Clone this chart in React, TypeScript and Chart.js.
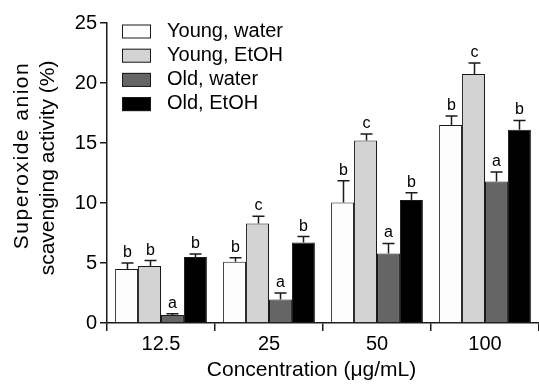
import { useEffect, useRef } from 'react';
import { Chart, registerables } from 'chart.js';

Chart.register(...registerables);

const categories = ['12.5', '25', '50', '100'];
const seriesNames = ['Young, water', 'Young, EtOH', 'Old, water', 'Old, EtOH'];
const youngWater = [4.5, 5.1, 10.05, 16.5];
const youngEtOH = [4.75, 8.3, 15.2, 20.75];
const oldWater = [0.67, 1.95, 5.8, 11.8];
const oldEtOH = [5.5, 6.7, 10.25, 16.1];
const youngWaterErr = [0.5, 0.33, 1.8, 0.75];
const youngEtOHErr = [0.45, 0.6, 0.55, 0.92];
const oldWaterErr = [0.1, 0.55, 0.83, 0.78];
const oldEtOHErr = [0.25, 0.5, 0.6, 0.78];
const youngWaterSig = ['b', 'b', 'b', 'b'];
const youngEtOHSig = ['b', 'c', 'c', 'c'];
const oldWaterSig = ['a', 'a', 'a', 'a'];
const oldEtOHSig = ['b', 'b', 'b', 'b'];
const yTicks = [0, 5, 10, 15, 20, 25];
const yTitleLines = ['Superoxide anion', 'scavenging activity (%)'];
const xTitle = 'Concentration (\u03bcg/mL)';

const FONT = "'Liberation Sans', Arial, Helvetica, sans-serif";
const fills = ['#fdfdfd', '#d3d3d3', '#656565', '#000000'];
const INK = '#1a1a1a';

const seriesValues = [youngWater, youngEtOH, oldWater, oldEtOH];
const seriesErr = [youngWaterErr, youngEtOHErr, oldWaterErr, oldEtOHErr];
const seriesSig = [youngWaterSig, youngEtOHSig, oldWaterSig, oldEtOHSig];

const errorPlugin = {
  id: 'errorBarsAndLetters',
  afterDatasetsDraw(chart: any) {
    const ctx = chart.ctx;
    const yScale = chart.scales.y;
    ctx.save();
    chart.data.datasets.forEach((ds: any, i: number) => {
      const meta = chart.getDatasetMeta(i);
      meta.data.forEach((el: any, j: number) => {
        const v = ds.data[j];
        const e = seriesErr[i][j];
        const yTop = yScale.getPixelForValue(v + e);
        const x = Math.round(el.x) + 0.5;
        ctx.strokeStyle = INK;
        ctx.lineWidth = 1.5;
        ctx.beginPath();
        ctx.moveTo(x, el.y);
        ctx.lineTo(x, yTop);
        ctx.moveTo(x - 6, yTop);
        ctx.lineTo(x + 6, yTop);
        ctx.stroke();
        ctx.fillStyle = '#000';
        ctx.font = `16px ${FONT}`;
        ctx.textAlign = 'center';
        ctx.textBaseline = 'alphabetic';
        ctx.fillText(seriesSig[i][j], x, yTop - 6);
      });
    });
    ctx.restore();
  },
};

const legendPlugin = {
  id: 'insideLegend',
  afterDraw(chart: any) {
    const ctx = chart.ctx;
    const area = chart.chartArea;
    ctx.save();
    chart.data.datasets.forEach((ds: any, i: number) => {
      const bx = area.left + 15;
      const by = area.top + 1.5 + i * 24.2;
      ctx.fillStyle = ds.backgroundColor;
      ctx.fillRect(bx, by, 29, 14);
      ctx.strokeStyle = INK;
      ctx.lineWidth = 1;
      ctx.strokeRect(bx + 0.5, by + 0.5, 28, 13);
      ctx.fillStyle = '#000';
      ctx.font = `20px ${FONT}`;
      ctx.textAlign = 'left';
      ctx.textBaseline = 'middle';
      ctx.fillText(ds.label, bx + 45, by + 6.5);
    });
    ctx.restore();
  },
};

const titlesPlugin = {
  id: 'axisTitles',
  afterDraw(chart: any) {
    const ctx = chart.ctx;
    const area = chart.chartArea;
    const cy = (area.top + area.bottom) / 2;
    ctx.save();
    ctx.fillStyle = '#000';
    ctx.font = `21px ${FONT}`;
    ctx.textAlign = 'center';
    ctx.textBaseline = 'middle';
    const xs = [22, 48.5];
    const offs = [-17.5, -5];
    const spacing = ['1.5px', '0px'];
    yTitleLines.forEach((line, k) => {
      ctx.save();
      ctx.translate(xs[k], cy + offs[k]);
      ctx.rotate(-Math.PI / 2);
      (ctx as any).letterSpacing = spacing[k];
      ctx.fillText(line, 0, 0);
      ctx.restore();
    });
    ctx.fillText(xTitle, (area.left + area.right) / 2 - 11.5, area.bottom + 47);
    ctx.restore();
  },
};

export default function App() {
  const ref = useRef<HTMLCanvasElement | null>(null);
  useEffect(() => {
    if (!ref.current) return;
    const chart = new Chart(ref.current, {
      type: 'bar',
      data: {
        labels: categories,
        datasets: seriesNames.map((name, i) => ({
          label: name,
          data: seriesValues[i],
          backgroundColor: fills[i],
          borderColor: INK,
          borderWidth: 1,
          categoryPercentage: 0.85,
          barPercentage: 1.0,
        })),
      },
      options: {
        responsive: false,
        animation: false,
        devicePixelRatio: 1,
        layout: { padding: { top: 23, right: 0, bottom: 0, left: 0 } },
        plugins: {
          legend: { display: false },
          tooltip: { enabled: false },
          title: { display: false },
        },
        scales: {
          x: {
            type: 'category',
            offset: true,
            grid: {
              offset: true,
              drawOnChartArea: false,
              drawTicks: true,
              tickLength: 8,
              color: INK,
              lineWidth: 1.5,
            },
            border: { display: true, color: INK, width: 1.5 },
            ticks: {
              color: '#000',
              font: { family: FONT, size: 20 },
              padding: 1,
              maxRotation: 0,
            },
            afterFit(s: any) {
              s.height = 67;
            },
          },
          y: {
            min: 0,
            max: 25,
            afterBuildTicks(s: any) {
              s.ticks = yTicks.map((v) => ({ value: v }));
            },
            grid: {
              drawOnChartArea: false,
              drawTicks: true,
              tickLength: 7,
              color: INK,
              lineWidth: 1.5,
            },
            border: { display: true, color: INK, width: 1.5 },
            ticks: {
              color: '#000',
              font: { family: FONT, size: 20 },
              padding: 3,
            },
            afterFit(s: any) {
              s.width = 107;
            },
          },
        },
      },
      plugins: [errorPlugin, legendPlugin, titlesPlugin],
    });
    return () => chart.destroy();
  }, []);
  return (
    <div style={{ position: 'fixed', left: 0, top: 0, width: 539, height: 390, background: '#fff' }}>
      <canvas ref={ref} width={539} height={390} style={{ display: 'block', width: 539, height: 390 }} />
    </div>
  );
}
